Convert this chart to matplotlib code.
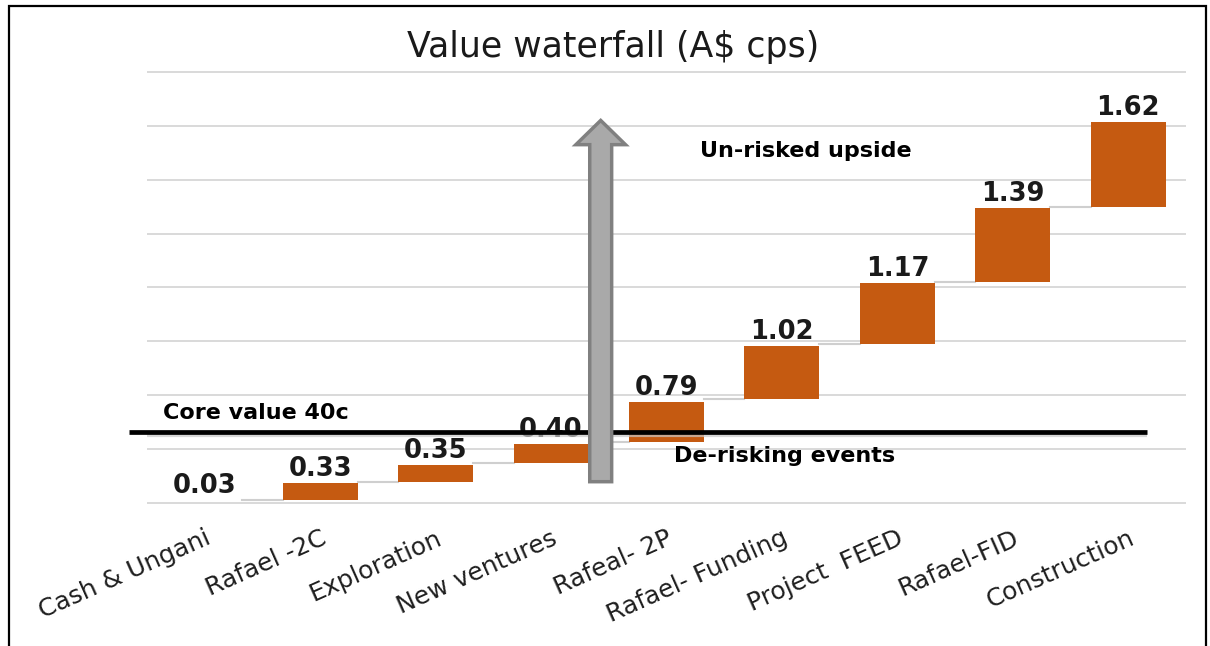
import matplotlib.pyplot as plt
import numpy as np
from matplotlib.patches import FancyArrow, Rectangle

# Категории (подписи оси X)
steps = ['Cash & Ungani', 'Rafael -2C', 'Exploration', 'New ventures', 'Rafeal- 2P',
         'Rafael- Funding', 'Project  FEED', 'Rafael-FID', 'Construction']

# Накопленная стоимость, подписи над столбцами (A$ cps)
value_labels = ['0.03', '0.33', '0.35', '0.40', '0.79', '1.02', '1.17', '1.39', '1.62']

# Начало и конец плавающих столбцов в единицах оси графика (сетка через 0.2)
bar_start = [0.010, 0.010, 0.078, 0.149, 0.227, 0.384, 0.590, 0.819, 1.100]
bar_end = [0.010, 0.072, 0.140, 0.218, 0.375, 0.583, 0.816, 1.094, 1.414]

core_value = 0.264      # линия "Core value 40c"
upside_from = 0.078     # серая стрелка
upside_to = 1.420

bar_color = '#C55A11'
width = 0.65

fig = plt.figure(figsize=(12.1, 6.46), dpi=100)
ax = fig.add_axes([147 / 1210, 0.2135, 1039 / 1210, 0.6834])

x = np.arange(len(steps))
start = np.array(bar_start)
end = np.array(bar_end)

# сетка
for g in np.arange(0, 1.61, 0.2):
    ax.axhline(g, color='#d9d9d9', lw=1.4, zorder=0)

# столбцы
ax.bar(x, end - start, width, bottom=start, color=bar_color, zorder=2)

# соединительные линии между столбцами
for i in range(len(x) - 1):
    ax.plot([x[i] + width / 2, x[i + 1] - width / 2], [start[i + 1], start[i + 1]],
            color='#cfcfcf', lw=1.5, zorder=1)

# подписи над столбцами
for xi, top, lab in zip(x, end, value_labels):
    ax.annotate(lab, xy=(xi, top), xytext=(0, 5), textcoords='offset points',
                ha='center', va='baseline', fontsize=18.5, fontweight='bold',
                color='#1a1a1a', zorder=3)

# линия базовой стоимости с тенью
ax.plot([-0.653, 8.166], [core_value - 0.012, core_value - 0.012],
        color='#c8c8c8', lw=3, alpha=0.7, zorder=4, solid_capstyle='butt')
ax.plot([-0.653, 8.166], [core_value, core_value], color='black', lw=3.4,
        zorder=5, solid_capstyle='butt', clip_on=False)

# стрелка
arrow = FancyArrow(3.43, upside_from, 0, upside_to - upside_from, width=0.19,
                   head_width=0.43, head_length=0.09, length_includes_head=True,
                   facecolor='#a9a9a9', edgecolor='#808080', lw=2.5, zorder=6)
ax.add_patch(arrow)

# текстовые пометки
ax.text(-0.361, 0.311, 'Core value 40c', fontsize=16, fontweight='bold',
        ha='left', va='baseline', zorder=7)
ax.text(4.067, 0.152, 'De-risking events', fontsize=16, fontweight='bold',
        ha='left', va='baseline', zorder=7)
ax.text(4.292, 1.283, 'Un-risked upside', fontsize=16, fontweight='bold',
        ha='left', va='baseline', zorder=7)

ax.set_xlim(-0.5, 8.5)
ax.set_ylim(-0.02, 1.62)
ax.set_xticks(x)
ax.set_xticklabels(steps, rotation=24, ha='right', rotation_mode='anchor',
                   fontsize=18, color='#1f1f1f')
ax.tick_params(axis='x', length=0, pad=13)
ax.set_yticks([])
for s in ax.spines.values():
    s.set_visible(False)

fig.text(613 / 1210, 1 - 57 / 646, 'Value waterfall (A$ cps)', ha='center',
         va='baseline', fontsize=25, color='#1a1a1a')

# рамка
fig.add_artist(Rectangle((9 / 1210, -0.1), (1206 - 9) / 1210, 1.1 - 6.5 / 646,
                         transform=fig.transFigure, fill=False, edgecolor='black', lw=1.6))

fig.savefig('out.png', dpi=100)
